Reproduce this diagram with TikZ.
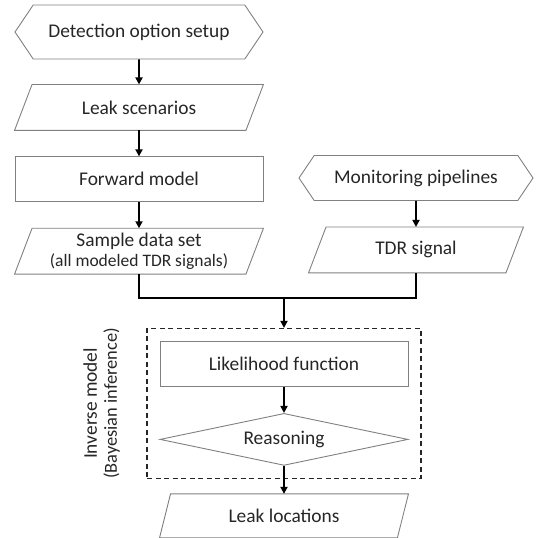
\documentclass[tikz,border=0pt]{standalone}
\usepackage{fontspec}
\setmainfont{Carlito}
\usepackage{tikz}
\usetikzlibrary{positioning,shapes.geometric,shapes.symbols,arrows.meta,fit}

\begin{document}
\begin{tikzpicture}[x=1pt,y=1pt,
    node distance=26pt,
    every node/.style={font=\fontsize{19.4}{21}\selectfont, text=black!85},
    box/.style={draw=black!50, line width=0.9pt, minimum width=248pt, minimum height=45pt, inner sep=0pt},
    hexbox/.style={box, shape=signal, signal to=west and east, signal pointer angle=112},
    databox/.style={box, draw=none, append after command={\pgfextra{
        \draw[draw=black!50, line width=0.9pt] (\tikzlastnode.south west) -- ([xshift=#1]\tikzlastnode.north west)
            -- (\tikzlastnode.north east) -- ([xshift=-#1]\tikzlastnode.south east) -- cycle;}}},
    databox/.default=17.5pt,
    flow/.style={line width=1.8pt, -{Triangle[length=7pt,width=7pt]}},
    joint/.style={line width=1.8pt}]
    \useasboundingbox (0,0) rectangle (536,-538);

    %Nodes
    \node[hexbox, minimum height=54pt]      (det)                           at (139,-32) {Detection option setup};
    \node[databox]                          (scen)  [below=25pt of det]     {Leak scenarios};
    \node[box]                              (fwd)   [below=of scen]         {Forward model};
    \node[databox, align=center]            (sample)[below=of fwd]          {Sample data set\\[-1pt]{\fontsize{17.5}{19}\selectfont(all modeled TDR signals)}};
    \node[hexbox, minimum width=234pt]      (mon)                           at (416,-178) {Monitoring pipelines};
    \node[databox, minimum width=214pt]     (tdr)   [below=of mon]          {TDR signal};
    \node[box]                              (like)                          at (284,-364) {Likelihood function};
    \node[box, diamond, aspect=4.8, minimum height=52pt] (reason) [below=of like] {Reasoning};
    \node[databox=11pt, minimum height=43pt] (locs) [below=28pt of reason]  {Leak locations};
    \node[draw=black!85, line width=1.3pt, dash pattern=on 5pt off 3.5pt, inner sep=12.5pt, fit=(like)(reason)] (inv) {};
    \node[rotate=90, align=center] (invlabel) [left=23pt of inv, anchor=south]
        {Inverse model\\[-1pt]{\fontsize{18.4}{20}\selectfont(Bayesian inference)}};
    \coordinate (join) at (284,-298);

    %Lines
    \draw[flow] (det) -- (scen);
    \draw[flow] (scen) -- (fwd);
    \draw[flow] (fwd) -- (sample);
    \draw[flow] (mon) -- (tdr);
    \draw[joint] (sample.south) |- (join) -| (tdr.south);
    \draw[flow] (join) -- (inv.north);
    \draw[flow] (like) -- (reason);
    \draw[flow] (reason) -- (locs);
\end{tikzpicture}
\end{document}
